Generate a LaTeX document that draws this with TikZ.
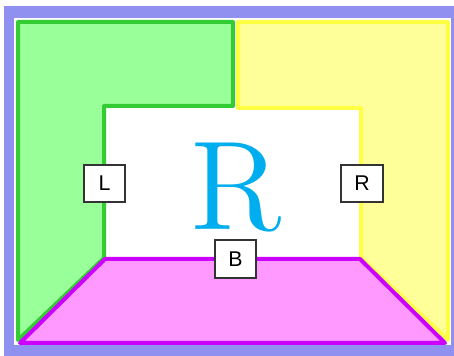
\documentclass[tikz,border=0pt]{standalone}
\usepackage{fontspec}
\newfontfamily\labelfont{Liberation Sans}
\newfontfamily\bigrfont{lmroman12-regular.otf}
\definecolor{bandpurple}{HTML}{9090F0}
\definecolor{lgreen}{HTML}{99FF99}
\definecolor{dgreen}{HTML}{33CC33}
\definecolor{lyellow}{HTML}{FFFF99}
\definecolor{dyellow}{HTML}{FFFF44}
\definecolor{lmagenta}{HTML}{FF99FF}
\definecolor{dmagenta}{HTML}{CC00FF}
\definecolor{bigcyan}{HTML}{00AEEF}
\tikzset{
    sidebox/.style={draw=black!80, fill=white, line width=1.5pt,
        minimum width=31pt, minimum height=28pt, inner sep=0pt,
        font=\labelfont\fontsize{16}{16}\selectfont},
    region/.style={line width=3pt, line join=round}
}
\begin{document}
\begin{tikzpicture}[x=0.75pt,y=-0.75pt]
    \useasboundingbox (0,0) rectangle (454,356);
    % frame
    \fill[bandpurple] (4,6) rectangle (454,356);
    \fill[white] (14,18) rectangle (451,345);
    % left region
    \filldraw[region, fill=lgreen, draw=dgreen]
        (18,22) -- (233,22) -- (233,106) -- (104,106) -- (104,258) -- (18,340) -- cycle;
    % right region
    \filldraw[region, fill=lyellow, draw=dyellow]
        (238,22) -- (448,22) -- (448,340) -- (361,258) -- (361,108) -- (238,108) -- cycle;
    % bottom region
    \filldraw[region, fill=lmagenta, draw=dmagenta]
        (105,259) -- (360,259) -- (445,343) -- (20,343) -- cycle;
    % labels
    \node[anchor=base, inner sep=0pt, text=bigcyan, font=\bigrfont\fontsize{95}{95}\selectfont] (rlabel) at (236,230) {R};
    \node[sidebox] (lbox) at (104.5,183.5) {L};
    \node[sidebox] (rbox) at (362,183.5) {R};
    \node[sidebox] (bbox) at (235.5,259) {B};
\end{tikzpicture}
\end{document}
